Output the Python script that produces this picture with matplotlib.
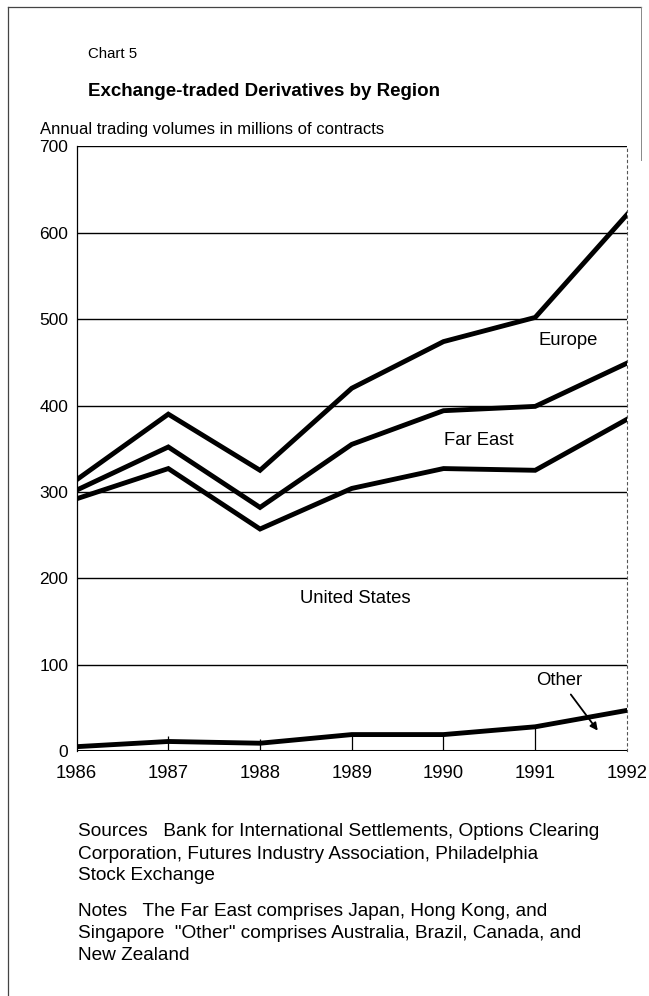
import matplotlib
matplotlib.use("Agg")
import matplotlib.pyplot as plt
import numpy as np

plt.rcParams['font.family'] = ['Liberation Sans', 'DejaVu Sans']

years = [1986, 1987, 1988, 1989, 1990, 1991, 1992]
other = [5, 11, 9, 19, 19, 28, 47]
united_states = [287, 316, 248, 285, 308, 297, 337]
far_east = [10, 25, 25, 51, 67, 74, 65]
europe = [12, 38, 43, 65, 80, 103, 172]
yticks = [0, 100, 200, 300, 400, 500, 600, 700]

cum_other = np.array(other)
cum_us = cum_other + np.array(united_states)
cum_fe = cum_us + np.array(far_east)
cum_eu = cum_fe + np.array(europe)

fig = plt.figure(figsize=(6.49, 9.96), dpi=100)
ax = fig.add_axes([0.118, 0.246, 0.848, 0.607])

ax.set_xlim(1986, 1992)
ax.set_ylim(0, 700)
ax.set_yticks(yticks)
ax.set_xticks(years)
ax.tick_params(axis='y', length=0, labelsize=12.5, pad=6)
ax.tick_params(axis='x', length=0, labelsize=13.3, pad=10)

for yv in yticks[1:]:
    ax.axhline(yv, color='black', lw=1.0, zorder=1)
ax.axhline(0, color='black', lw=2.2, zorder=3)

for s in ['top', 'bottom']:
    ax.spines[s].set_visible(False)
ax.spines['left'].set_linewidth(0.9)
ax.spines['right'].set_linewidth(0.8)
ax.spines['right'].set_linestyle((0, (2, 3)))
ax.spines['right'].set_color('#555555')

for cum in [cum_other, cum_us, cum_fe, cum_eu]:
    ax.plot(years, cum, color='black', lw=3.5, solid_joinstyle='miter', zorder=4)

ax.vlines(years[1:6], 0, cum_other[1:6] + np.array([6, 5, 0, 0, 0]), color='black', lw=0.9, zorder=2)

ax.text(1991.36, 475, 'Europe', ha='center', va='center', fontsize=13.3)
ax.text(1990.38, 359, 'Far East', ha='center', va='center', fontsize=13.3)
ax.text(1989.04, 176, 'United States', ha='center', va='center', fontsize=13.3)
ax.text(1991.26, 82, 'Other', ha='center', va='center', fontsize=13.3)
ax.annotate('', xy=(1991.70, 21), xytext=(1991.37, 68),
            arrowprops=dict(arrowstyle='-|>', color='black', lw=1.3, mutation_scale=11))

fig.text(88/649, 1 - 54/996, 'Chart 5', ha='left', va='center', fontsize=10.8)
fig.text(88/649, 1 - 92/996, 'Exchange-traded Derivatives by Region', ha='left', va='center',
         fontsize=13.5, fontweight='bold')
fig.text(40/649, 1 - 129/996, 'Annual trading volumes in millions of contracts', ha='left',
         va='center', fontsize=12)

notes_lines = [
    (831, 'Sources   Bank for International Settlements, Options Clearing'),
    (854, 'Corporation, Futures Industry Association, Philadelphia'),
    (876, 'Stock Exchange'),
    (911, 'Notes   The Far East comprises Japan, Hong Kong, and'),
    (933, 'Singapore  "Other" comprises Australia, Brazil, Canada, and'),
    (955, 'New Zealand'),
]
for yp, txt in notes_lines:
    fig.text(78/649, 1 - yp/996, txt, ha='left', va='center', fontsize=13.7)

# page border
fig.add_artist(plt.Line2D([8/649, 8/649], [0, 1 - 7/996], transform=fig.transFigure, color='#444444', lw=0.9))
fig.add_artist(plt.Line2D([8/649, 641/649], [1 - 7/996, 1 - 7/996], transform=fig.transFigure, color='#444444', lw=0.9))
fig.add_artist(plt.Line2D([641/649, 641/649], [1 - 7/996, 1 - 160/996], transform=fig.transFigure, color='#888888', lw=0.7))

fig.savefig('out.png', dpi=100)
